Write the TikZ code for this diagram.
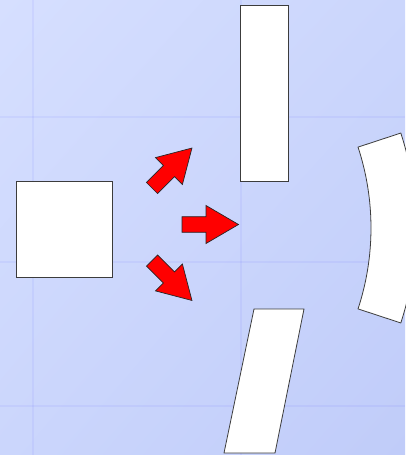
\documentclass[tikz,border=0pt]{standalone}
\usetikzlibrary{shadings}
\definecolor{bgA}{RGB}{214,223,255}
\definecolor{bgB}{RGB}{203,214,252}
\definecolor{bgC}{RGB}{192,204,249}
\definecolor{edge}{RGB}{60,60,60}
\tikzset{
  shapebox/.style={draw=edge, fill=white, line width=0.8pt, line join=miter},
  redarrow/.style={draw=black!85, fill=red, line width=0.7pt, line join=miter},
  gridline/.style={draw=blue!80, opacity=0.06, line width=2pt}
}
\newcommand\blockarrowpath{(0,-7.8) -- (24,-7.8) -- (24,-19) -- (56.5,0) -- (24,19) -- (24,7.8) -- (0,7.8) -- cycle}
\begin{document}
\begin{tikzpicture}[x=1pt,y=-1pt]
\useasboundingbox (0,0) rectangle (405,455);
\shade[upper left=bgA, upper right=bgB, lower left=bgB, lower right=bgC] (0,0) rectangle (405,455);
% faint grid
\draw[gridline] (33,0) -- (33,455);
\draw[gridline] (241,0) -- (241,455);
\draw[gridline] (0,117) -- (405,117);
\draw[gridline] (0,262) -- (405,262);
\draw[gridline] (0,406) -- (405,406);
% left square
\draw[shapebox] (16,181) rectangle (112,277);
% top rectangle
\draw[shapebox] (240,5) rectangle (288,181);
% bottom parallelogram
\draw[shapebox] (254,309) -- (304,309) -- (275,453) -- (224,453) -- cycle;
% curved sector
\begin{scope}[shift={(112,228)}]
\draw[shapebox] (-18.2:259) arc[start angle=-18.2, end angle=18.2, radius=259] -- (18.2:304) arc[start angle=18.2, end angle=-18.2, radius=304] -- cycle;
\end{scope}
% arrows
\begin{scope}[shift={(152,188)}, rotate=45]
\draw[redarrow] \blockarrowpath;
\end{scope}
\begin{scope}[shift={(182,224.5)}]
\draw[redarrow] \blockarrowpath;
\end{scope}
\begin{scope}[shift={(152,260.5)}, rotate=-45]
\draw[redarrow] \blockarrowpath;
\end{scope}
\end{tikzpicture}
\end{document}
